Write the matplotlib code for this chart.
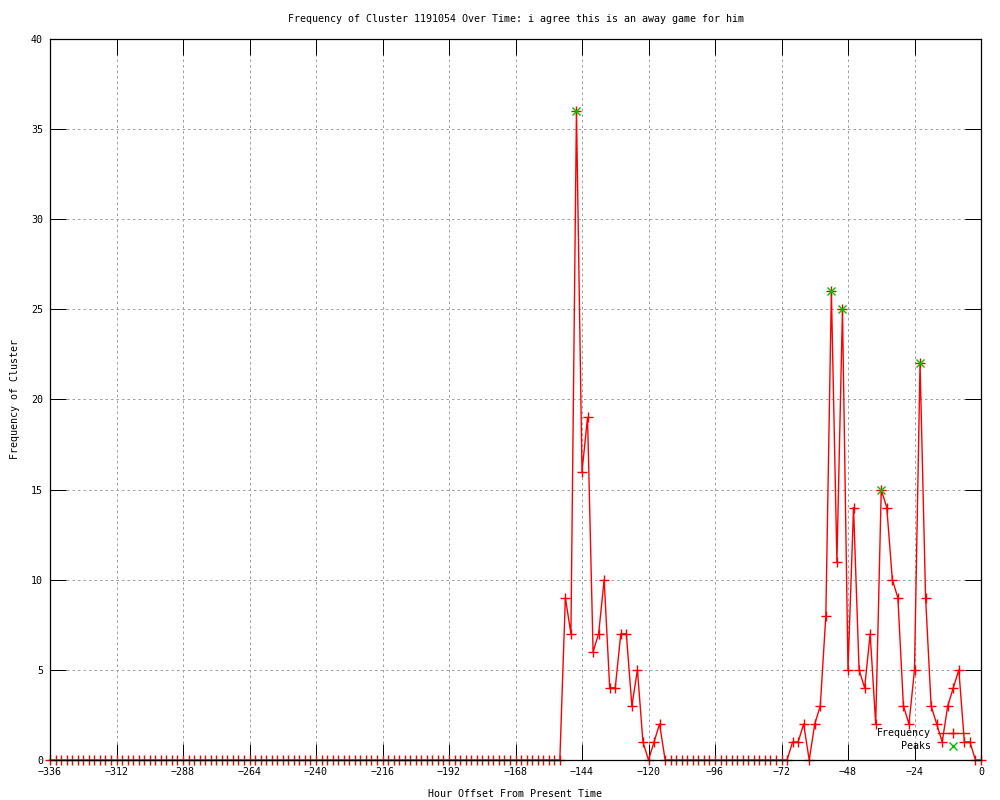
import numpy as np
import matplotlib
matplotlib.use('Agg')
import matplotlib.pyplot as plt

# hour offsets, one sample every two hours
hours = np.arange(-336, 1, 2)

# frequency per sample (-336 ... 0)
frequency = [
    0, 0, 0, 0, 0, 0, 0, 0, 0, 0, 0, 0, 0, 0, 0, 0, 0, 0, 0, 0,   # -336 .. -298
    0, 0, 0, 0, 0, 0, 0, 0, 0, 0, 0, 0, 0, 0, 0, 0, 0, 0, 0, 0,   # -296 .. -258
    0, 0, 0, 0, 0, 0, 0, 0, 0, 0, 0, 0, 0, 0, 0, 0, 0, 0, 0, 0,   # -256 .. -218
    0, 0, 0, 0, 0, 0, 0, 0, 0, 0, 0, 0, 0, 0, 0, 0, 0, 0, 0, 0,   # -216 .. -178
    0, 0, 0, 0, 0, 0, 0, 0, 0, 0, 0, 0, 0,                        # -176 .. -152
    9, 7, 36, 16, 19, 6, 7, 10, 4, 4, 7, 7, 3, 5, 1, 0, 1, 2,     # -150 .. -116
    0, 0, 0, 0, 0, 0, 0, 0, 0, 0, 0, 0, 0, 0, 0, 0, 0, 0, 0, 0,   # -114 .. -76
    0, 0, 0,                                                      # -74 .. -70
    1, 1, 2, 0, 2, 3, 8, 26, 11, 25, 5, 14, 5, 4, 7, 2, 15, 14,   # -68 .. -34
    10, 9, 3, 2, 5, 22, 9, 3, 2, 1, 3, 4, 5, 1, 1, 0, 0,          # -32 .. 0
]

peak_hours = [-146, -54, -50, -36, -22]
peak_values = [36, 26, 25, 15, 22]

plt.rcParams['font.family'] = 'DejaVu Sans Mono'
plt.rcParams['font.size'] = 7.2

fig = plt.figure(figsize=(10, 8), dpi=100)
ax = fig.add_axes([0.05, 0.05, 0.931, 0.9015])

ax.plot(hours, frequency, color='red', lw=1, marker='+', ms=6.5, mew=1,
        clip_on=False, zorder=2)
ax.plot(peak_hours, peak_values, ls='none', color='#00c000', marker='x',
        ms=5.5, mew=1, clip_on=False, zorder=3)

ax.set_xlim(-336, 0)
ax.set_ylim(0, 40)
ax.set_xticks(np.arange(-336, 1, 24))
ax.set_yticks(np.arange(0, 41, 5))

ax.grid(True, color='#a0a0a0', lw=0.72, ls=(0, (2.5, 3)))
ax.tick_params(direction='in', length=11.5, width=0.72, top=True, right=True,
               pad=5, colors='black')
for sp in ax.spines.values():
    sp.set_linewidth(0.9)
    sp.set_zorder(4)

ax.set_title('Frequency of Cluster 1191054 Over Time: i agree this is an away game for him',
             fontsize=7.2, pad=12)
ax.set_xlabel('Hour Offset From Present Time', labelpad=9)
ax.set_ylabel('Frequency of Cluster', labelpad=8)

# key, bottom right like the gnuplot original
tr = ax.transAxes
ax.text(0.946, 0.0374, 'Frequency', transform=tr, ha='right', va='center')
ax.text(0.946, 0.0194, 'Peaks', transform=tr, ha='right', va='center')
ax.plot([0.954, 0.987], [0.0374, 0.0374], transform=tr, color='red', lw=1)
ax.plot([0.970], [0.0374], transform=tr, color='red', marker='+', ms=6.5, mew=1)
ax.plot([0.970], [0.0194], transform=tr, color='#00c000', marker='x', ms=5.5, mew=1)

fig.savefig('out.png', dpi=100)
